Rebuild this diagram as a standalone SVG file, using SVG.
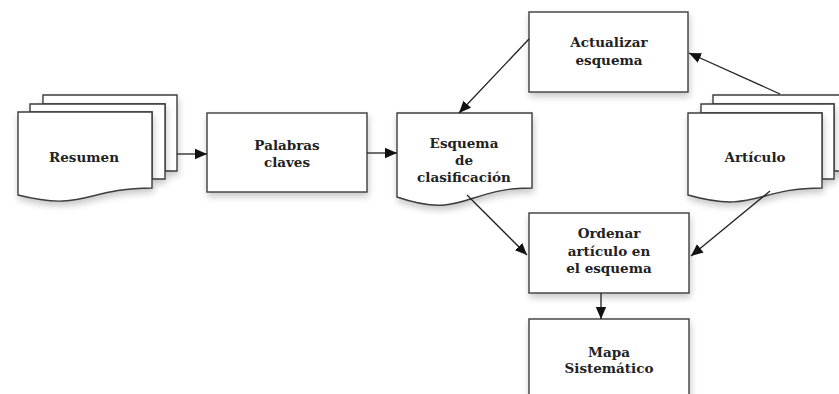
<svg xmlns="http://www.w3.org/2000/svg" width="839" height="394" viewBox="0 0 839 394">
  <defs>
    <filter id="soft" x="-20%" y="-20%" width="140%" height="150%">
      <feGaussianBlur in="SourceAlpha" stdDeviation="3.5"/>
      <feOffset dx="1" dy="4" result="blur"/>
      <feComponentTransfer><feFuncA type="linear" slope="0.22"/></feComponentTransfer>
      <feMerge><feMergeNode/><feMergeNode in="SourceGraphic"/></feMerge>
    </filter>
    <marker id="arrow" markerUnits="userSpaceOnUse" markerWidth="12" markerHeight="12" viewBox="0 0 12 12" refX="12" refY="6" orient="auto">
      <path d="M0,0.8 L12,6 L0,11.2 Z" fill="#111"/>
    </marker>
  </defs>
  <style>
    .shape { fill: #ffffff; stroke: #3c3c3c; stroke-width: 1.4; }
    .sheet { fill: #ffffff; stroke: #3c3c3c; stroke-width: 1.4; filter: url(#soft); }
    .edge { fill: none; stroke: #222; stroke-width: 1.3; marker-end: url(#arrow); }
    text { font-family: "DejaVu Serif", "Liberation Serif", serif; font-weight: bold; font-size: 13.5px; fill: #222; text-anchor: middle; }
  </style>
  <rect width="839" height="394" fill="#ffffff"/>

  <!-- stacked documents: Resumen -->
  <g id="resumen">
    <path class="sheet" d="M43,95 H177 V171 H165 V104 H43 Z"/>
    <path class="sheet" d="M30,104 H165 V179 H152 V112 H30 Z"/>
    <path class="sheet" d="M18,112 H152 V188 C85,188 85,212 18,195 Z"/>
    <text x="84" y="162">Resumen</text>
  </g>

  <!-- process: Palabras claves -->
  <g id="palabras">
    <rect class="sheet" x="207" y="113" width="160" height="79"/>
    <text x="287" y="150">Palabras</text>
    <text x="287" y="167">claves</text>
  </g>

  <!-- document: Esquema de clasificación -->
  <g id="esquema">
    <path class="sheet" d="M397,113 H532 V188 C464,188 464,220 397,197 Z"/>
    <text x="464" y="148">Esquema</text>
    <text x="464" y="165">de</text>
    <text x="464" y="182">clasificación</text>
  </g>

  <!-- process: Actualizar esquema -->
  <g id="actualizar">
    <rect class="sheet" x="529" y="12" width="159" height="80"/>
    <text x="609" y="47">Actualizar</text>
    <text x="609" y="65">esquema</text>
  </g>

  <!-- stacked documents: Artículo -->
  <g id="articulo">
    <path class="sheet" d="M713,95 H847 V171 H834 V104 H713 Z"/>
    <path class="sheet" d="M701,104 H834 V179 H822 V113 H701 Z"/>
    <path class="sheet" d="M688,113 H822 V188 C755,188 755,214 688,195 Z"/>
    <text x="755" y="162">Artículo</text>
  </g>

  <!-- process: Ordenar artículo en el esquema -->
  <g id="ordenar">
    <rect class="sheet" x="529" y="213" width="160" height="80"/>
    <text x="609" y="238">Ordenar</text>
    <text x="609" y="256">artículo en</text>
    <text x="609" y="273">el esquema</text>
  </g>

  <!-- process: Mapa Sistemático -->
  <g id="mapa">
    <rect class="sheet" x="529" y="319" width="160" height="90"/>
    <text x="609" y="357">Mapa</text>
    <text x="609" y="373">Sistemático</text>
  </g>

  <!-- connectors -->
  <g id="connectors">
    <path class="edge" d="M177,154 H207"/>
    <path class="edge" d="M367,153 H397"/>
    <path class="edge" d="M529,39 L459,113"/>
    <path class="edge" d="M780,94 L689,53"/>
    <path class="edge" d="M467,195 L527,255"/>
    <path class="edge" d="M770,191 L691,256"/>
    <path class="edge" d="M601,293 V319"/>
  </g>
</svg>
